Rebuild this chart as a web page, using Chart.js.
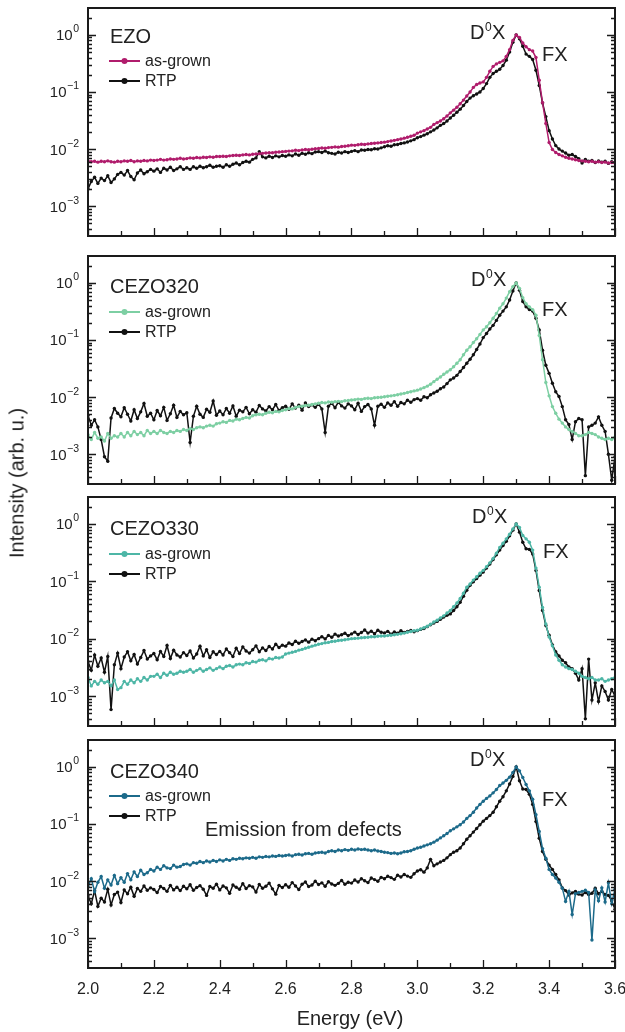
<!DOCTYPE html>
<html>
<head>
<meta charset="utf-8">
<script src="https://cdn.jsdelivr.net/npm/chart.js@4.4.1/dist/chart.umd.min.js"></script>
<style>
  body { margin: 0; background: #fff; }
  #wrap { position: relative; width: 625px; height: 1032px; }
  #wrap canvas { position: absolute; left: 0; }
  #ytitle {
    position: absolute; left: 17px; top: 483px;
    transform: translate(-50%, -50%) rotate(-90deg);
    font: 20px "Liberation Sans", Arial, sans-serif; color: #222; white-space: nowrap;
  }
</style>
</head>
<body>
<div id="wrap">
  <canvas id="p1" width="625" height="246" style="top:0px"></canvas>
  <canvas id="p2" width="625" height="244" style="top:246px"></canvas>
  <canvas id="p3" width="625" height="243" style="top:490px"></canvas>
  <canvas id="p4" width="625" height="299" style="top:733px"></canvas>
  <div id="ytitle">Intensity (arb. u.)</div>
</div>
<script>
// photon energy grid (eV)
const energy = [
  2.00,2.01,2.02,2.03,2.04,2.05,2.06,2.07,2.08,2.09,
  2.10,2.11,2.12,2.13,2.14,2.15,2.16,2.17,2.18,2.19,
  2.20,2.21,2.22,2.23,2.24,2.25,2.26,2.27,2.28,2.29,
  2.30,2.31,2.32,2.33,2.34,2.35,2.36,2.37,2.38,2.39,
  2.40,2.41,2.42,2.43,2.44,2.45,2.46,2.47,2.48,2.49,
  2.50,2.51,2.52,2.53,2.54,2.55,2.56,2.57,2.58,2.59,
  2.60,2.61,2.62,2.63,2.64,2.65,2.66,2.67,2.68,2.69,
  2.70,2.71,2.72,2.73,2.74,2.75,2.76,2.77,2.78,2.79,
  2.80,2.81,2.82,2.83,2.84,2.85,2.86,2.87,2.88,2.89,
  2.90,2.91,2.92,2.93,2.94,2.95,2.96,2.97,2.98,2.99,
  3.00,3.01,3.02,3.03,3.04,3.05,3.06,3.07,3.08,3.09,
  3.10,3.11,3.12,3.13,3.14,3.15,3.16,3.17,3.18,3.19,
  3.20,3.21,3.22,3.23,3.24,3.25,3.26,3.27,3.28,3.29,
  3.30,3.31,3.32,3.33,3.34,3.35,3.36,3.37,3.38,3.39,
  3.40,3.41,3.42,3.43,3.44,3.45,3.46,3.47,3.48,3.49,
  3.50,3.51,3.52,3.53,3.54,3.55,3.56,3.57,3.58,3.59,3.60
];

// EZO
const ezoGrown = [
  .0062,.0060,.0061,.0059,.0061,.0060,.0062,.0060,.0059,.0061,
  .0060,.0062,.0061,.0063,.0060,.0062,.0061,.0063,.0062,.0064,
  .0063,.0064,.0066,.0064,.0065,.0067,.0066,.0067,.0069,.0067,
  .0068,.0070,.0069,.0071,.0070,.0072,.0071,.0073,.0072,.0074,
  .0074,.0075,.0074,.0076,.0077,.0078,.0077,.0079,.0080,.0079,
  .0081,.0082,.0083,.0084,.0085,.0086,.0086,.0088,.0089,.0090,
  .0091,.0092,.0093,.0095,.0094,.0096,.0098,.0097,.0099,.0101,
  .0102,.0104,.0103,.0106,.0107,.0109,.0108,.0111,.0112,.0114,
  .0117,.0116,.0119,.0121,.0120,.0123,.0125,.0126,.0128,.0130,
  .0132,.0135,.0138,.0142,.0146,.0150,.0155,.0161,.0167,.0174,
  .019,.020,.021,.0225,.024,.027,.029,.031,.034,.038,
  .043,.048,.054,.062,.072,.085,.10,.12,.135,.143,
  .150,.18,.23,.28,.31,.33,.35,.42,.55,.80,
  1.0,.90,.72,.62,.55,.52,.40,.16,.065,.028,
  .013,.0098,.0087,.0080,.0076,.0072,.0069,.0067,.0065,.0063,
  .0062,.0061,.0060,.0061,.0059,.0060,.0058,.0059,.0057,.0058,.0057
];
const ezoRtp = [
  .0020,.0027,.0032,.0025,.0031,.0028,.0034,.0026,.0030,.0036,
  .0039,.0035,.0042,.0033,.0029,.0038,.0043,.0037,.0040,.0044,
  .0041,.0045,.0039,.0046,.0043,.0048,.0042,.0045,.0049,.0044,
  .0047,.0044,.0049,.0046,.0050,.0047,.0049,.0052,.0048,.0050,
  .0051,.0048,.0053,.0050,.0054,.0057,.0053,.0058,.0061,.0059,
  .0066,.0070,.0090,.0073,.0070,.0075,.0071,.0076,.0073,.0077,
  .0075,.0079,.0076,.0082,.0078,.0084,.0081,.0086,.0083,.0089,
  .0090,.0087,.0092,.0086,.0084,.0082,.0088,.0085,.0090,.0087,
  .0091,.0094,.0090,.0096,.0095,.0098,.0097,.0101,.0100,.0105,
  .0110,.0114,.0112,.0119,.0120,.0125,.0128,.0133,.0139,.0146,
  .0158,.0165,.0175,.0185,.0200,.0215,.0235,.026,.028,.031,
  .035,.039,.044,.050,.058,.068,.078,.086,.092,.100,
  .115,.14,.18,.21,.23,.25,.29,.36,.50,.74,
  1.0,.85,.63,.46,.42,.37,.24,.13,.064,.037,
  .021,.015,.0115,.0100,.0092,.0085,.0078,.0080,.0074,.0068,
  .0057,.0066,.0061,.0063,.0058,.0062,.0059,.0061,.0056,.0060,.0058
];

// CEZO320
const c320Grown = [
  .0022,.0018,.0024,.0019,.0020,.0017,.0023,.0019,.0021,.0020,
  .0023,.0020,.0024,.0021,.0025,.0022,.0024,.0021,.0026,.0023,
  .0025,.0023,.0026,.0024,.0023,.0025,.0024,.0026,.0025,.0027,
  .0026,.0028,.0027,.0029,.0030,.0029,.0031,.0032,.0031,.0034,
  .0035,.0037,.0036,.0039,.0038,.0041,.0040,.0042,.0044,.0043,
  .0047,.0049,.0050,.0049,.0052,.0054,.0053,.0056,.0055,.0058,
  .0060,.0063,.0062,.0066,.0068,.0069,.0071,.0072,.0074,.0076,
  .0078,.0080,.0079,.0082,.0081,.0083,.0084,.0083,.0086,.0087,
  .0089,.0090,.0092,.0091,.0094,.0095,.0094,.0097,.0098,.0099,
  .0101,.0103,.0105,.0107,.0110,.0113,.0116,.0120,.0124,.0128,
  .0132,.0138,.0146,.0155,.0168,.0186,.0205,.0225,.025,.0275,
  .030,.034,.039,.045,.055,.066,.076,.090,.105,.125,
  .15,.17,.20,.24,.29,.36,.43,.54,.70,.86,
  1.0,.80,.55,.43,.38,.34,.27,.12,.045,.018,
  .0105,.0068,.0052,.0041,.0035,.0030,.0027,.0025,.0023,.0021,
  .0021,.0022,.0024,.0023,.0022,.0020,.0019,.0018,.0019,.0018,.0020
];
const c320Rtp = [
  .0048,.0032,.0040,.0030,.0018,.0009,.00075,.0043,.0063,.0052,
  .0045,.0065,.0050,.0038,.0060,.0042,.0055,.0077,.0046,.0052,
  .0040,.0058,.0047,.0066,.0039,.0051,.0072,.0044,.0056,.0049,
  .0053,.0016,.0046,.0069,.0050,.0044,.0061,.0054,.0085,.0048,
  .0057,.0049,.0063,.0052,.0070,.0046,.0059,.0055,.0066,.0051,
  .0060,.0054,.0071,.0062,.0057,.0068,.0060,.0074,.0058,.0065,
  .0069,.0061,.0076,.0064,.0072,.0059,.0079,.0068,.0073,.0066,
  .0075,.0062,.0024,.0069,.0078,.0065,.0081,.0070,.0064,.0076,
  .0070,.0060,.0078,.0056,.0068,.0074,.0062,.0032,.0069,.0075,
  .0066,.0079,.0072,.0083,.0069,.0080,.0076,.0088,.0081,.0090,
  .0094,.0088,.0101,.0097,.0110,.0118,.0126,.0140,.0150,.0172,
  .0200,.0215,.024,.028,.033,.039,.046,.055,.068,.085,
  .110,.13,.155,.18,.22,.27,.32,.38,.50,.72,
  1.0,.74,.47,.38,.34,.32,.24,.15,.066,.036,
  .026,.0174,.0124,.0102,.0068,.0040,.0033,.0018,.0037,.0042,
  .0040,.00042,.0030,.0032,.0035,.0045,.0032,.0025,.0010,.00035,.0009
];

// CEZO330
const c330Grown = [
  .0021,.0015,.0018,.0016,.0019,.0017,.0018,.0015,.0019,.0013,
  .0014,.0018,.0016,.0019,.0017,.0020,.0018,.0021,.0019,.0022,
  .0022,.0024,.0021,.0025,.0023,.0026,.0024,.0025,.0027,.0026,
  .0027,.0029,.0026,.0028,.0030,.0027,.0029,.0031,.0028,.0030,
  .0032,.0030,.0033,.0034,.0032,.0035,.0036,.0035,.0038,.0037,
  .0040,.0039,.0042,.0043,.0041,.0045,.0044,.0047,.0046,.0048,
  .0054,.0056,.0058,.0060,.0063,.0065,.0068,.0071,.0074,.0077,
  .0080,.0082,.0085,.0086,.0089,.0090,.0093,.0094,.0096,.0098,
  .0100,.0101,.0102,.0104,.0105,.0106,.0108,.0108,.0110,.0111,
  .0111,.0113,.0115,.0117,.0119,.0122,.0125,.0129,.0133,.0137,
  .0140,.0147,.0155,.0165,.0178,.0195,.0210,.0230,.0250,.0280,
  .031,.036,.042,.050,.062,.079,.090,.105,.120,.138,
  .155,.18,.21,.25,.31,.39,.46,.55,.66,.82,
  1.0,.87,.63,.55,.48,.35,.17,.079,.035,.018,
  .0107,.0075,.0052,.0042,.0035,.0032,.0030,.0029,.0027,.0025,
  .0022,.0021,.0020,.0021,.0019,.0019,.0020,.0018,.0019,.0020,.0021
];
const c330Rtp = [
  .0040,.0028,.0052,.0033,.0046,.0026,.0049,.00058,.0035,.0056,
  .0030,.0048,.0059,.0041,.0053,.0036,.0047,.0062,.0044,.0050,
  .0055,.0043,.0060,.0049,.0076,.0045,.0063,.0052,.0048,.0057,
  .0051,.0061,.0046,.0054,.0074,.0050,.0064,.0047,.0059,.0053,
  .0060,.0052,.0066,.0057,.0049,.0068,.0055,.0072,.0061,.0056,
  .0064,.0075,.0059,.0069,.0062,.0073,.0066,.0080,.0070,.0077,
  .0074,.0084,.0079,.0090,.0083,.0089,.0095,.0087,.0098,.0092,
  .0100,.0108,.0099,.0114,.0106,.0120,.0111,.0117,.0124,.0113,
  .0121,.0130,.0118,.0128,.0142,.0125,.0135,.0122,.0140,.0129,
  .0126,.0134,.0120,.0131,.0125,.0137,.0128,.0133,.0139,.0132,
  .0138,.0145,.0150,.0162,.0175,.0188,.0200,.0218,.0238,.0255,
  .027,.031,.036,.043,.055,.070,.085,.098,.112,.128,
  .145,.17,.20,.24,.29,.35,.42,.50,.62,.78,
  1.0,.72,.48,.37,.36,.30,.155,.069,.031,.017,
  .0115,.0078,.0059,.0050,.0042,.0038,.0032,.0030,.0025,.0019,
  .0030,.0004,.0044,.00085,.0017,.0008,.0015,.0012,.00085,.0013,.0010
];

// CEZO340
const c340Grown = [
  .0080,.0110,.0065,.0095,.0120,.0075,.0105,.0085,.0125,.0090,
  .0115,.0095,.0135,.0105,.0145,.0120,.0155,.0130,.0140,.0160,
  .0150,.0175,.0160,.0185,.0170,.0165,.0190,.0175,.0180,.0195,
  .0200,.0190,.0210,.0205,.0220,.0210,.0225,.0215,.0230,.0220,
  .0235,.0225,.0240,.0230,.0245,.0240,.0250,.0245,.0255,.0250,
  .0260,.0250,.0265,.0260,.0270,.0265,.0275,.0270,.0280,.0275,
  .0280,.0285,.0275,.0290,.0295,.0285,.0300,.0305,.0295,.0310,
  .0315,.0320,.0310,.0330,.0340,.0330,.0350,.0340,.0355,.0345,
  .0360,.0350,.0365,.0355,.0360,.0350,.0340,.0350,.0335,.0330,
  .0320,.0315,.0305,.0310,.0300,.0310,.0325,.0330,.0340,.0360,
  .038,.039,.041,.043,.045,.048,.052,.057,.062,.068,
  .076,.082,.089,.097,.108,.125,.140,.160,.190,.220,
  .25,.28,.31,.35,.40,.47,.52,.58,.66,.80,
  1.0,.85,.65,.49,.38,.27,.145,.074,.037,.025,
  .016,.013,.0113,.0095,.0075,.0044,.0066,.0026,.0060,.0063,
  .0066,.0069,.0063,.00093,.0070,.0045,.0076,.0043,.0093,.0040,.0072
];
const c340Rtp = [
  .0055,.0040,.0068,.0036,.0050,.0043,.0072,.0038,.0058,.0064,
  .0042,.0070,.0060,.0078,.0054,.0074,.0066,.0082,.0069,.0076,
  .0071,.0063,.0080,.0074,.0066,.0084,.0070,.0078,.0068,.0081,
  .0073,.0086,.0069,.0077,.0083,.0072,.0056,.0080,.0075,.0088,
  .0070,.0082,.0076,.0061,.0085,.0078,.0072,.0090,.0074,.0083,
  .0079,.0064,.0087,.0075,.0081,.0092,.0073,.0059,.0084,.0077,
  .0086,.0078,.0094,.0082,.0071,.0088,.0096,.0080,.0085,.0099,
  .0087,.0093,.0081,.0097,.0089,.0084,.0091,.0102,.0088,.0095,
  .0092,.0104,.0096,.0110,.0101,.0094,.0113,.0106,.0099,.0116,
  .0110,.0121,.0115,.0107,.0126,.0118,.0130,.0122,.0116,.0134,
  .0150,.0158,.0143,.0170,.0240,.0185,.0200,.0215,.0230,.0255,
  .029,.032,.034,.038,.045,.054,.062,.072,.083,.097,
  .112,.125,.14,.16,.20,.25,.30,.38,.50,.68,
  1.0,.57,.41,.40,.33,.22,.11,.056,.033,.024,
  .019,.016,.013,.0105,.0076,.0068,.0057,.0062,.0066,.0059,
  .0057,.0063,.0058,.0061,.0075,.0060,.0066,.0058,.0056,.0045,.0032
];

// axis ticks
const xMajorTicks = ['2.0','2.2','2.4','2.6','2.8','3.0','3.2','3.4','3.6'];
const xMinorTicks = [2.1, 2.3, 2.5, 2.7, 2.9, 3.1, 3.3, 3.5];
const yDecades = [0, -1, -2, -3];
const seriesNames = ['as-grown', 'RTP'];

const FONT = '"Liberation Sans", Arial, sans-serif';
const INK = '#222';
const Y_MIN = Math.pow(10, -3.52);
const Y_MAX = Math.pow(10, 0.47);

const panels = [
  { id: 'p1', name: 'EZO', color: '#b01c6c', grown: ezoGrown, rtp: ezoRtp,
    top: 0, pad: [8, 10], nameBase: 43, legY: [61, 81], d0x: [470, 39], fx: [542, 61] },
  { id: 'p2', name: 'CEZO320', color: '#7dcfa3', grown: c320Grown, rtp: c320Rtp,
    top: 246, pad: [10, 6], nameBase: 293, legY: [312, 332], d0x: [471, 286], fx: [542, 316] },
  { id: 'p3', name: 'CEZO330', color: '#4db6a6', grown: c330Grown, rtp: c330Rtp,
    top: 490, pad: [7, 7], nameBase: 535, legY: [554, 574], d0x: [472, 523], fx: [543, 558] },
  { id: 'p4', name: 'CEZO340', color: '#1c6a8a', grown: c340Grown, rtp: c340Rtp,
    top: 733, pad: [7, 64], nameBase: 778, legY: [796, 816], d0x: [470, 766], fx: [542, 806],
    bottomAxis: true, note: 'Emission from defects' }
];

// frame, inward ticks and all annotation text
const decor = {
  id: 'decor',
  afterDraw(chart) {
    const p = chart.options.plugins.decor.panel;
    const { ctx, chartArea: a, scales: { x, y } } = chart;
    ctx.save();
    ctx.strokeStyle = '#1a1a1a';
    ctx.fillStyle = INK;

    // y ticks (left + right), decades long, 2..9 short
    ctx.lineWidth = 1.3;
    ctx.beginPath();
    for (let d = -4; d <= 0; d++) {
      for (let k = 1; k <= 9; k++) {
        const v = k * Math.pow(10, d);
        if (v < Y_MIN || v > Y_MAX) continue;
        const py = Math.round(y.getPixelForValue(v)) + 0.5;
        const len = k === 1 ? 8 : 4;
        ctx.moveTo(a.left, py); ctx.lineTo(a.left + len, py);
        ctx.moveTo(a.right, py); ctx.lineTo(a.right - len, py);
      }
    }
    // x ticks on the bottom edge
    xMajorTicks.forEach(t => {
      const px = Math.round(x.getPixelForValue(parseFloat(t))) + 0.5;
      ctx.moveTo(px, a.bottom); ctx.lineTo(px, a.bottom - 8);
    });
    xMinorTicks.forEach(t => {
      const px = Math.round(x.getPixelForValue(t)) + 0.5;
      ctx.moveTo(px, a.bottom); ctx.lineTo(px, a.bottom - 5);
    });
    ctx.stroke();

    ctx.lineWidth = 2;
    ctx.strokeRect(a.left, a.top, a.right - a.left, a.bottom - a.top);

    // y tick labels 10^n
    yDecades.forEach(d => {
      const py = y.getPixelForValue(Math.pow(10, d));
      const exp = d === 0 ? '0' : '\u2212' + (-d);
      ctx.font = '10.5px ' + FONT;
      ctx.textAlign = 'right';
      ctx.textBaseline = 'alphabetic';
      const ew = ctx.measureText(exp).width;
      ctx.fillText(exp, 79, py - 2.5);
      ctx.font = '15px ' + FONT;
      ctx.fillText('10', 79 - ew - 0.5, py + 5.5);
    });

    // page coordinates from here
    ctx.translate(0, -p.top);
    ctx.textAlign = 'left';
    ctx.textBaseline = 'alphabetic';
    ctx.font = '20px ' + FONT;
    ctx.fillText(p.name, 110, p.nameBase);

    // legend
    [p.color, '#111'].forEach((c, i) => {
      const ly = p.legY[i];
      ctx.strokeStyle = c; ctx.fillStyle = c; ctx.lineWidth = 2;
      ctx.beginPath(); ctx.moveTo(109, ly); ctx.lineTo(140, ly); ctx.stroke();
      ctx.beginPath(); ctx.arc(124.5, ly, 3, 0, Math.PI * 2); ctx.fill();
      ctx.fillStyle = INK;
      ctx.font = '16px ' + FONT;
      ctx.textBaseline = 'middle';
      ctx.fillText(seriesNames[i], 145, ly + 1);
      ctx.textBaseline = 'alphabetic';
    });

    // peak labels
    ctx.fillStyle = INK;
    ctx.font = '20px ' + FONT;
    let dx = p.d0x[0];
    ctx.fillText('D', dx, p.d0x[1]);
    dx += ctx.measureText('D').width + 0.5;
    ctx.font = '12px ' + FONT;
    ctx.fillText('0', dx, p.d0x[1] - 8);
    dx += ctx.measureText('0').width + 0.5;
    ctx.font = '20px ' + FONT;
    ctx.fillText('X', dx, p.d0x[1]);
    ctx.fillText('FX', p.fx[0], p.fx[1]);

    if (p.note) ctx.fillText(p.note, 205, 836);

    if (p.bottomAxis) {
      ctx.font = '16px ' + FONT;
      ctx.textAlign = 'center';
      xMajorTicks.forEach(t => {
        ctx.fillText(t, x.getPixelForValue(parseFloat(t)), 994);
      });
      ctx.font = '20px ' + FONT;
      ctx.fillText('Energy (eV)', 350, 1025);
    }
    ctx.restore();
  }
};

function toPoints(vals) {
  return energy.map((e, i) => ({ x: e, y: vals[i] }));
}

panels.forEach(p => {
  new Chart(document.getElementById(p.id), {
    type: 'line',
    data: {
      datasets: [
        { label: 'as-grown', data: toPoints(p.grown), borderColor: p.color, backgroundColor: p.color },
        { label: 'RTP', data: toPoints(p.rtp), borderColor: '#111', backgroundColor: '#111' }
      ]
    },
    options: {
      responsive: false,
      animation: false,
      events: [],
      layout: { padding: { left: 88, right: 10, top: p.pad[0], bottom: p.pad[1] } },
      elements: {
        line: { borderWidth: 1.5, tension: 0 },
        point: { radius: 1.7, borderWidth: 0 }
      },
      plugins: {
        legend: { display: false },
        tooltip: { enabled: false },
        decor: { panel: p }
      },
      scales: {
        x: { type: 'linear', min: 2.0, max: 3.6, display: false },
        y: { type: 'logarithmic', min: Y_MIN, max: Y_MAX, display: false }
      }
    },
    plugins: [decor]
  });
});
</script>
</body>
</html>
